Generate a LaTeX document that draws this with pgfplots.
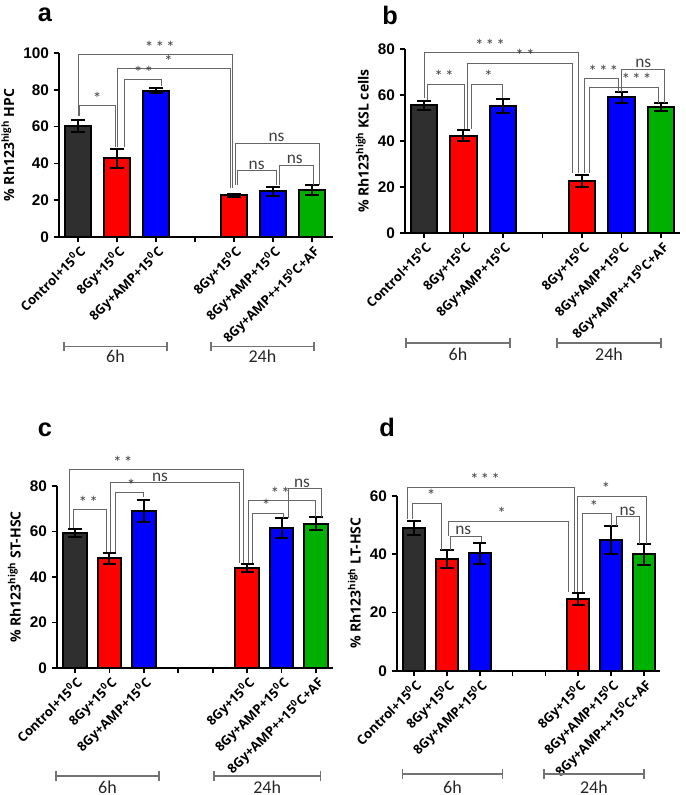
\documentclass[border=0pt]{standalone}
\usepackage{pgfplots}
\pgfplotsset{compat=1.18}
\usepackage{fontspec}
\setmainfont{Carlito}
\newfontfamily\arialfont{Liberation Sans}
\newfontfamily\opensans{Open Sans}
\definecolor{cgray}{HTML}{2F2F2F}
\definecolor{cred}{HTML}{FF0000}
\definecolor{cblue}{HTML}{0000FF}
\definecolor{cgreen}{HTML}{00B000}
\newcommand{\dg}{\textsuperscript{0}}
\newcommand{\sa}{*}
\newcommand{\saa}{*\kern1.5pt*}
\newcommand{\saaa}{*\kern1.5pt*\kern1.5pt*}
% x1, y1bottom, x2, y2bottom, ytop, labelx, label
\newcommand{\sig}[7]{%
  \draw[brk] (axis cs:#1,#2) -- (axis cs:#1,#5) -- (axis cs:#3,#5) -- (axis cs:#3,#4);
  \node[sigl] at (axis cs:#6,#5) {#7};}
\newcommand{\grp}[6]{% x1 x2 yline ylabel label xmid
  \draw[grpl] (axis cs:#1,#3) -- (axis cs:#2,#3);
  \draw[grpl] (axis cs:#1,#3) ++(0pt,-3.5pt) -- ++(0pt,7pt);
  \draw[grpl] (axis cs:#2,#3) ++(0pt,-3.5pt) -- ++(0pt,7pt);
  \node[font=\fontsize{13.5}{13.5}\selectfont, text=black!85] at (axis cs:#6,#4) {#5};}
\tikzset{brk/.style={draw=black!60, line width=0.7pt},
  sigl/.style={anchor=south, inner sep=0.8pt, font=\fontsize{13}{13}\selectfont, text=black!75},
  grpl/.style={draw=black!55, line width=1.1pt}}
\pgfplotsset{panel/.style={
  scale only axis, axis lines=left, axis line style={line width=1.5pt, -},
  ymin=0, ybar, bar width=0.68, clip=false,
  tick style={line width=1.2pt, black}, major tick length=4pt,
  tick align=outside,
  /pgf/number format/assume math mode=true,
  y tick label style={font=\arialfont\bfseries\fontsize{11.5}{11.5}\selectfont},
  x tick label style={rotate=45, anchor=north east, inner sep=1pt, font=\opensans\bfseries\fontsize{9.8}{9.8}\selectfont},
  ylabel style={font=\opensans\bfseries\fontsize{10.5}{10.5}\selectfont},
  every axis plot/.append style={draw=black, line width=1.5pt, bar shift=0pt,
    error bars/y dir=both, error bars/y explicit,
    error bars/error bar style={line width=1.5pt, black},
    error bars/error mark options={rotate=90, mark size=5pt, line width=1.5pt, black}},
}}
\begin{document}
\begin{tikzpicture}
\path[use as bounding box] (0,0) rectangle (513.75pt,596.25pt);
\node[font=\arialfont\bfseries\fontsize{19}{19}\selectfont] at (33.75pt,585pt) {a};
\node[font=\arialfont\bfseries\fontsize{19}{19}\selectfont] at (292.5pt,585pt) {b};
\node[font=\arialfont\bfseries\fontsize{19}{19}\selectfont] at (33.75pt,273.75pt) {c};
\node[font=\arialfont\bfseries\fontsize{19}{19}\selectfont] at (290.25pt,276pt) {d};
% ---------------- a
\begin{axis}[panel, at={(44.25pt,418.5pt)}, anchor=south west,
  width=205.5pt, height=138pt, xmin=-0.49, xmax=6.54, ymax=100,
  ytick={0,20,...,100}, xtick={0,...,6},
  xticklabels={Control+15\dg C, 8Gy+15\dg C, 8Gy+AMP+15\dg C, {}, 8Gy+15\dg C, 8Gy+AMP+15\dg C, 8Gy+AMP++15\dg C+AF},
  ylabel={\% Rh123\textsuperscript{high} HPC}]
\addplot[fill=cgray] coordinates {(0,60.5) +- (0,3.3)};
\addplot[fill=cred] coordinates {(1,42.7) +- (0,5.2) (4,22.6) +- (0,1.0)};
\addplot[fill=cblue] coordinates {(2,79.5) +- (0,1.5) (5,24.9) +- (0,2.5)};
\addplot[fill=cgreen] coordinates {(6,25.5) +- (0,2.5)};
\sig{0}{66}{3.96}{26.4}{99.1}{2.1}{\saaa}
\sig{1.0}{49}{3.9}{26.4}{91.5}{2.32}{\sa}
\sig{1.19}{49}{2.15}{82}{85.5}{1.68}{\saa}
\sig{0.03}{65.5}{0.97}{49}{71.5}{0.49}{\sa}
\sig{4.05}{28}{6.18}{28.5}{51}{5.09}{ns}
\sig{4.08}{28}{5.1}{28}{36}{4.58}{ns}
\sig{5.17}{28}{6.03}{28.5}{39.1}{5.56}{ns}
\grp{-0.36}{2.28}{-59.4}{-64.7}{6h}{0.96}
\grp{3.41}{6.05}{-59.4}{-64.7}{24h}{4.73}
\end{axis}
% ---------------- b
\begin{axis}[panel, at={(303.75pt,421.5pt)}, anchor=south west,
  width=206.25pt, height=138pt, xmin=-0.48, xmax=6.48, ymax=80,
  ytick={0,20,...,80}, xtick={0,...,6},
  xticklabels={Control+15\dg C, 8Gy+15\dg C, 8Gy+AMP+15\dg C, {}, 8Gy+15\dg C, 8Gy+AMP+15\dg C, 8Gy+AMP++15\dg C+AF},
  ylabel={\% Rh123\textsuperscript{high} KSL cells}]
\addplot[fill=cgray] coordinates {(0,55.6) +- (0,2.0)};
\addplot[fill=cred] coordinates {(1,42.3) +- (0,2.4) (4,22.5) +- (0,2.7)};
\addplot[fill=cblue] coordinates {(2,55.3) +- (0,3.0) (5,59.0) +- (0,2.3)};
\addplot[fill=cgreen] coordinates {(6,54.7) +- (0,1.7)};
\sig{0}{58.6}{3.91}{26}{78.5}{1.67}{\saaa}
\sig{1.1}{45}{3.76}{26}{73.9}{2.56}{\saa}
\sig{0.09}{58}{1.02}{45}{64.7}{0.51}{\saa}
\sig{1.21}{45}{1.99}{58.5}{64.7}{1.63}{\sa}
\sig{4.06}{26}{4.92}{61.5}{67.2}{4.54}{\saaa}
\sig{4.19}{26}{5.93}{56.5}{63.4}{5.38}{\saaa}
\sig{4.99}{61.5}{6.08}{56.5}{71.3}{5.55}{ns}
\grp{-0.46}{2.18}{-47.8}{-52.6}{6h}{0.86}
\grp{3.37}{6.0}{-47.8}{-52.6}{24h}{4.685}
\end{axis}
% ---------------- c
\begin{axis}[panel, at={(42.75pt,95.25pt)}, anchor=south west,
  width=207pt, height=136.5pt, xmin=-0.52, xmax=7.49, ymax=80,
  ytick={0,20,...,80}, xtick={0,...,7},
  xticklabels={Control+15\dg C, 8Gy+15\dg C, 8Gy+AMP+15\dg C, {}, {}, 8Gy+15\dg C, 8Gy+AMP+15\dg C, 8Gy+AMP++15\dg C+AF},
  ylabel={\% Rh123\textsuperscript{high} ST-HSC}]
\addplot[fill=cgray] coordinates {(0,59.2) +- (0,1.8)};
\addplot[fill=cred] coordinates {(1,48.2) +- (0,2.3) (5,43.8) +- (0,1.8)};
\addplot[fill=cblue] coordinates {(2,69.0) +- (0,5.0) (6,61.5) +- (0,4.3)};
\addplot[fill=cgreen] coordinates {(7,63.4) +- (0,2.9)};
\sig{-0.17}{61.5}{4.89}{46}{87.3}{1.39}{\saa}
\sig{1.04}{51}{4.78}{46}{81.5}{2.47}{ns}
\sig{1.19}{51}{1.99}{75}{77.1}{1.63}{\sa}
\sig{-0.05}{61.5}{0.92}{51}{69.5}{0.39}{\saa}
\sig{5.04}{46}{6.98}{66.5}{73.6}{5.96}{\saa}
\sig{5.14}{46}{6.06}{66}{68}{5.55}{\sa}
\sig{6.2}{66}{7.15}{66.5}{78.7}{6.59}{ns}
\grp{-0.55}{2.44}{-47.5}{-52.3}{6h}{0.945}
\grp{4.04}{7.12}{-47.5}{-52.3}{24h}{5.58}
\end{axis}
% ---------------- d
\begin{axis}[panel, at={(297.75pt,93.2pt)}, anchor=south west,
  width=197.25pt, height=131.25pt, xmin=-0.52, xmax=7.49, ymax=60,
  ytick={0,20,...,60}, xtick={0,...,7},
  xticklabels={Control+15\dg C, 8Gy+15\dg C, 8Gy+AMP+15\dg C, {}, {}, 8Gy+15\dg C, 8Gy+AMP+15\dg C, 8Gy+AMP++15\dg C+AF},
  ylabel={\% Rh123\textsuperscript{high} LT-HSC}]
\addplot[fill=cgray] coordinates {(0,49.1) +- (0,2.4)};
\addplot[fill=cred] coordinates {(1,38.3) +- (0,3.0) (5,24.7) +- (0,2.0)};
\addplot[fill=cblue] coordinates {(2,40.2) +- (0,3.7) (6,44.8) +- (0,4.7)};
\addplot[fill=cgreen] coordinates {(7,39.9) +- (0,3.5)};
\sig{-0.2}{52}{4.89}{27}{62.9}{2.16}{\saaa}
\sig{-0.05}{52}{0.84}{41.5}{57.4}{0.52}{\sa}
\sig{1.12}{41.5}{2.04}{44}{46.2}{1.5}{ns}
\sig{1.06}{46.2}{4.69}{27}{51.3}{2.67}{\sa}
\sig{4.99}{27}{7.07}{43.5}{59.9}{5.84}{\sa}
\sig{5.12}{27}{6.01}{49.5}{53.9}{5.48}{\sa}
\sig{6.16}{49.5}{6.87}{43.5}{52.8}{6.5}{ns}
\grp{-0.36}{2.7}{-35.4}{-39.8}{6h}{1.17}
\grp{3.95}{7.0}{-35.4}{-39.8}{24h}{5.475}
\end{axis}
\end{tikzpicture}
\end{document}
